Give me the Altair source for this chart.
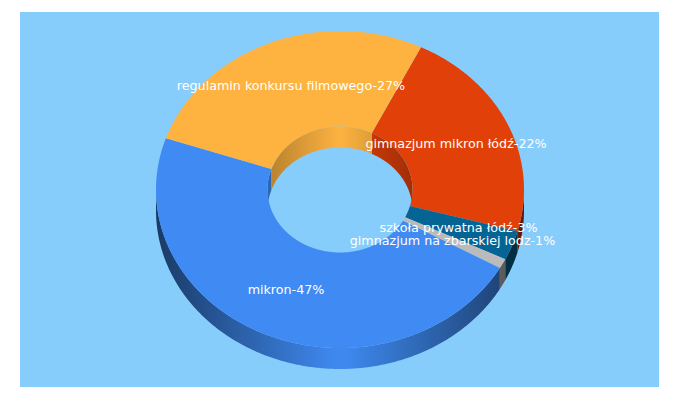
import math
import altair as alt
import pandas as pd

names = ["gimnazjum mikron łódź", "szkoła prywatna łódź", "gimnazjum na zbarskiej lodz", "mikron", "regulamin konkursu filmowego"]
shares = [22, 3, 1, 47, 27]
colors = ["#E14009", "#046595", "#BBBBBB", "#3F8BF3", "#FEB340"]
label_x = [456, 458.5, 452.5, 286, 291]
label_y = [144, 228, 241, 290, 86]

BG = "#86CDFC"
CX, CY = 340.0, 189.5
RX, RY = 184.0, 158.5
HX, HY = 72.5, 63.0
DEPTH = 21.0
START = 26.1
W, H = 664, 384

xs = alt.Scale(domain=[8, 8 + W], range=[0, W])
ys = alt.Scale(domain=[8, 8 + H], range=[0, H])
X = alt.X("x:Q", scale=xs, axis=None)
Y = alt.Y("y:Q", scale=ys, axis=None)


def pt(a, rx, ry, dy=0.0):
    r = math.radians(a)
    return CX + rx * math.sin(r), CY - ry * math.cos(r) + dy


def arc(a0, a1, rx, ry, dy=0.0):
    n = max(2, int(abs(a1 - a0) * 2) + 1)
    return [pt(a0 + (a1 - a0) * i / (n - 1), rx, ry, dy) for i in range(n)]


def shade(col, k):
    c = [int(col[i:i + 2], 16) for i in (1, 3, 5)]
    return "#%02x%02x%02x" % tuple(int(round(v * k)) for v in c)


def grad(col, x0, x1, edge, half):
    stops = []
    n = 24
    for i in range(n + 1):
        f = i / n
        x = x0 + (x1 - x0) * f
        t = min(1.0, abs(x - CX) / half)
        stops.append(alt.GradientStop(offset=f, color=shade(col, 1 - (1 - edge) * t)))
    return alt.LinearGradient(gradient="linear", x1=0, x2=1, y1=0, y2=0, stops=stops)


def poly(points, fill):
    df = pd.DataFrame({"x": [p[0] for p in points], "y": [p[1] for p in points], "i": range(len(points))})
    return alt.Chart(df).mark_line(filled=True, fill=fill, stroke=None, strokeWidth=0, clip=False, interpolate="linear").encode(
        x=X, y=Y, order=alt.Order("i:Q"))


total = sum(shares)
spans = []
a = START
for v in shares:
    b = a + 360.0 * v / total
    spans.append((a, b))
    a = b

layers = []
bg_df = pd.DataFrame({"x": [20], "x2": [659], "y": [12], "y2": [387]})
layers.append(alt.Chart(bg_df).mark_rect(color=BG).encode(x=X, x2="x2:Q", y=Y, y2="y2:Q"))

# outer walls (front half)
for (a0, a1), col in zip(spans, colors):
    lo, hi = max(a0, 90), min(a1, 270)
    if lo < hi:
        pts = arc(lo, hi, RX, RY) + arc(hi, lo, RX, RY, DEPTH)
        px = [p[0] for p in pts]
        layers.append(poly(pts, grad(col, min(px), max(px), 0.42, RX)))

# inner walls (back half)
for (a0, a1), col in zip(spans, colors):
    for off in (0, 360):
        lo, hi = max(a0 + off, 270), min(a1 + off, 450)
        if lo < hi:
            pts = arc(lo, hi, HX, HY) + arc(hi, lo, HX, HY, DEPTH)
            px = [p[0] for p in pts]
            layers.append(poly(pts, grad(col, min(px), max(px), 0.72, HX)))

# top faces
for (a0, a1), col in zip(spans, colors):
    pts = arc(a0, a1, RX, RY) + arc(a1, a0, HX, HY)
    layers.append(poly(pts, col))

labels = pd.DataFrame({
    "x": label_x, "y": label_y,
    "t": [f"{n}-{v}%" for n, v in zip(names, shares)],
})
layers.append(alt.Chart(labels).mark_text(color="white", font="DejaVu Sans", fontSize=12.7, align="center", baseline="middle").encode(x=X, y=Y, text="t:N"))

chart = alt.layer(*layers).properties(width=W, height=H, padding=0, background="white").configure_view(stroke=None)
chart.save("out.html", embed_options={"renderer": "svg", "actions": False})
